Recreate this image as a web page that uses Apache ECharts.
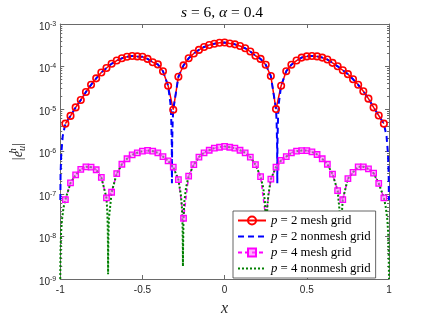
<!DOCTYPE html>
<html><head><meta charset="utf-8">
<script src="https://cdn.jsdelivr.net/npm/echarts@6/dist/echarts.min.js"></script>
<style>html,body{margin:0;padding:0;background:#fff}#c{width:429px;height:322px}</style>
</head><body><div id="c"></div>
<script>
// ---- data ----
const seriesNames = ['p = 2 mesh grid', 'p = 2 nonmesh grid', 'p = 4 mesh grid', 'p = 4 nonmesh grid'];
const xTickValues = [-1, -0.5, 0, 0.5, 1];
const xTickLabels = ['-1', '-0.5', '0', '0.5', '1'];
const yTickValues = [1e-9, 1e-8, 1e-7, 1e-6, 1e-5, 1e-4, 1e-3];
const yTickExps = ['-9', '-8', '-7', '-6', '-5', '-4', '-3'];

const meshX = [-0.96875, -0.9375, -0.90625, -0.875, -0.84375, -0.8125, -0.78125, -0.75, -0.71875, -0.6875,
  -0.65625, -0.625, -0.59375, -0.5625, -0.53125, -0.5, -0.46875, -0.4375, -0.40625, -0.375,
  -0.34375, -0.3125, -0.28125, -0.25, -0.21875, -0.1875, -0.15625, -0.125, -0.09375, -0.0625,
  -0.03125, 0, 0.03125, 0.0625, 0.09375, 0.125, 0.15625, 0.1875, 0.21875, 0.25,
  0.28125, 0.3125, 0.34375, 0.375, 0.40625, 0.4375, 0.46875, 0.5, 0.53125, 0.5625,
  0.59375, 0.625, 0.65625, 0.6875, 0.71875, 0.75, 0.78125, 0.8125, 0.84375, 0.875,
  0.90625, 0.9375, 0.96875];

const p2Mesh = [4.52e-6, 6.89e-6, 1.09e-5, 1.63e-5, 2.52e-5, 3.71e-5, 5.26e-5, 7.21e-5, 9.23e-5, 1.16e-4,
  1.38e-4, 1.56e-4, 1.70e-4, 1.77e-4, 1.73e-4, 1.70e-4, 1.51e-4, 1.26e-4, 1.12e-4, 7.74e-5,
  3.52e-5, 9.62e-6, 5.74e-5, 1.06e-4, 1.56e-4, 2.03e-4, 2.46e-4, 2.88e-4, 3.20e-4, 3.44e-4,
  3.62e-4, 3.66e-4, 3.49e-4, 3.32e-4, 3.04e-4, 2.69e-4, 2.25e-4, 1.79e-4, 1.51e-4, 1.10e-4,
  5.96e-5, 9.95e-6, 3.52e-5, 7.74e-5, 1.10e-4, 1.38e-4, 1.62e-4, 1.73e-4, 1.77e-4, 1.73e-4,
  1.62e-4, 1.46e-4, 1.22e-4, 1.01e-4, 8.17e-5, 6.61e-5, 5.00e-5, 3.71e-5, 2.61e-5, 1.75e-5,
  1.09e-5, 7.03e-6, 4.52e-6];

const p4Mesh = [7.41e-8, 1.82e-7, 2.82e-7, 3.80e-7, 4.37e-7, 4.27e-7, 3.72e-7, 2.45e-7, 8.13e-8, 1.10e-7,
  3.02e-7, 5.01e-7, 6.76e-7, 8.32e-7, 9.33e-7, 1.02e-6, 1.06e-6, 1.02e-6, 9.33e-7, 7.59e-7,
  6.03e-7, 4.27e-7, 2.19e-7, 2.69e-8, 2.63e-7, 4.90e-7, 7.41e-7, 9.33e-7, 1.07e-6, 1.20e-6,
  1.26e-6, 1.32e-6, 1.26e-6, 1.20e-6, 1.07e-6, 9.33e-7, 7.41e-7, 4.90e-7, 2.57e-7, 2.82e-8,
  2.24e-7, 4.27e-7, 6.17e-7, 7.59e-7, 9.33e-7, 1.02e-6, 1.05e-6, 1.05e-6, 9.77e-7, 8.51e-7,
  6.76e-7, 5.01e-7, 2.95e-7, 1.20e-7, 7.41e-8, 2.29e-7, 3.24e-7, 4.37e-7, 4.37e-7, 3.89e-7,
  3.09e-7, 1.78e-7, 8.13e-8];

const p2NonmeshX = [-0.9995, -0.998, -0.994, -0.985,
  -0.96875, -0.9375, -0.90625, -0.875, -0.84375, -0.8125, -0.78125, -0.75, -0.71875, -0.6875,
  -0.65625, -0.625, -0.59375, -0.5625, -0.53125, -0.5, -0.46875, -0.4375, -0.40625, -0.375, -0.34375,
  -0.33, -0.325, -0.3215, -0.3205, -0.3195, -0.316,
  -0.3125, -0.28125, -0.25, -0.21875, -0.1875, -0.15625, -0.125, -0.09375, -0.0625, -0.03125, 0,
  0.03125, 0.0625, 0.09375, 0.125, 0.15625, 0.1875, 0.21875, 0.25, 0.28125, 0.3125,
  0.316, 0.3195, 0.3205, 0.3215, 0.325, 0.33,
  0.34375, 0.375, 0.40625, 0.4375, 0.46875, 0.5, 0.53125, 0.5625, 0.59375, 0.625, 0.65625,
  0.6875, 0.71875, 0.75, 0.78125, 0.8125, 0.84375, 0.875, 0.90625, 0.9375, 0.96875,
  0.985, 0.994, 0.998, 0.9995];
const p2NonmeshY = [7.2e-8, 2.9e-7, 8.7e-7, 2.3e-6,
  4.52e-6, 6.89e-6, 1.09e-5, 1.63e-5, 2.52e-5, 3.71e-5, 5.26e-5, 7.21e-5, 9.23e-5, 1.16e-4,
  1.38e-4, 1.56e-4, 1.70e-4, 1.77e-4, 1.73e-4, 1.70e-4, 1.51e-4, 1.26e-4, 1.12e-4, 7.74e-5, 3.52e-5,
  1.4e-5, 6.5e-6, 1.5e-6, 1.8e-7, 1.3e-6, 5.3e-6,
  9.62e-6, 5.74e-5, 1.06e-4, 1.56e-4, 2.03e-4, 2.46e-4, 2.88e-4, 3.20e-4, 3.44e-4, 3.62e-4, 3.66e-4,
  3.49e-4, 3.32e-4, 3.04e-4, 2.69e-4, 2.25e-4, 1.79e-4, 1.51e-4, 1.10e-4, 5.96e-5, 9.95e-6,
  5.5e-6, 1.3e-6, 1.8e-7, 1.5e-6, 6.5e-6, 1.4e-5,
  3.52e-5, 7.74e-5, 1.10e-4, 1.38e-4, 1.62e-4, 1.73e-4, 1.77e-4, 1.73e-4, 1.62e-4, 1.46e-4, 1.22e-4,
  1.01e-4, 8.17e-5, 6.61e-5, 5.00e-5, 3.71e-5, 2.61e-5, 1.75e-5, 1.09e-5, 7.03e-6, 4.52e-6,
  2.3e-6, 8.7e-7, 2.9e-7, 7.2e-8];

const p4NonmeshX = [-1, -0.998, -0.995, -0.99, -0.98,
  -0.96875, -0.9375, -0.90625, -0.875, -0.84375, -0.8125, -0.78125, -0.75, -0.71875,
  -0.714, -0.711, -0.7098, -0.709, -0.7082, -0.707, -0.704,
  -0.6875, -0.65625, -0.625, -0.59375, -0.5625, -0.53125, -0.5, -0.46875, -0.4375, -0.40625, -0.375, -0.34375, -0.3125, -0.28125,
  -0.266, -0.26, -0.256, -0.2543, -0.2536, -0.2529,
  -0.25,
  -0.245, -0.235,
  -0.21875, -0.1875, -0.15625, -0.125, -0.09375, -0.0625, -0.03125, 0, 0.03125, 0.0625, 0.09375, 0.125, 0.15625, 0.1875, 0.21875,
  0.235, 0.245,
  0.25,
  0.2529, 0.2536, 0.2543, 0.256, 0.26, 0.266,
  0.28125, 0.3125, 0.34375, 0.375, 0.40625, 0.4375, 0.46875, 0.5, 0.53125, 0.5625, 0.59375, 0.625, 0.65625, 0.6875,
  0.704, 0.707, 0.7082, 0.709, 0.7098, 0.711, 0.714,
  0.71875, 0.75, 0.78125, 0.8125, 0.84375, 0.875, 0.90625, 0.9375, 0.96875,
  0.98, 0.99, 0.995, 0.998, 1];
const p4NonmeshY = [1.0e-9, 5e-9, 1.2e-8, 2.4e-8, 4.8e-8,
  7.41e-8, 1.82e-7, 2.82e-7, 3.80e-7, 4.37e-7, 4.27e-7, 3.72e-7, 2.45e-7, 8.13e-8,
  4.0e-8, 1.7e-8, 6.6e-9, 1.3e-9, 4.0e-9, 1.0e-8, 2.6e-8,
  1.10e-7, 3.02e-7, 5.01e-7, 6.76e-7, 8.32e-7, 9.33e-7, 1.02e-6, 1.06e-6, 1.02e-6, 9.33e-7, 7.59e-7, 6.03e-7, 4.27e-7, 2.19e-7,
  9.5e-8, 4.9e-8, 1.85e-8, 5.4e-9, 2.0e-9, 5.4e-9,
  2.69e-8,
  6.6e-8, 1.4e-7,
  2.63e-7, 4.90e-7, 7.41e-7, 9.33e-7, 1.07e-6, 1.20e-6, 1.26e-6, 1.32e-6, 1.26e-6, 1.20e-6, 1.07e-6, 9.33e-7, 7.41e-7, 4.90e-7, 2.57e-7,
  1.4e-7, 6.6e-8,
  2.82e-8,
  5.4e-9, 2.0e-9, 5.4e-9, 1.85e-8, 4.9e-8, 9.5e-8,
  2.24e-7, 4.27e-7, 6.17e-7, 7.59e-7, 9.33e-7, 1.02e-6, 1.05e-6, 1.05e-6, 9.77e-7, 8.51e-7, 6.76e-7, 5.01e-7, 2.95e-7, 1.20e-7,
  2.6e-8, 1.0e-8, 4.0e-9, 1.3e-9, 6.0e-9, 1.6e-8, 4.0e-8,
  7.41e-8, 2.29e-7, 3.24e-7, 4.37e-7, 4.37e-7, 3.89e-7, 3.09e-7, 1.78e-7, 8.13e-8,
  5.0e-8, 2.5e-8, 1.2e-8, 5e-9, 1.0e-9];

// ---- chart ----
const serif = '"Liberation Serif","DejaVu Serif",serif';
const sans = '"Liberation Sans",Arial,sans-serif';
const axisColor = '#6a6a6a';
const labelColor = '#262626';
const minorTicks = [];
for (let d = -9; d < -3; d++) for (let m = 2; m <= 9; m++) minorTicks.push(m * Math.pow(10, d));

const pairs = (xs, ys) => xs.map((x, i) => [x, ys[i]]);
const yLabel = v => {
  const i = yTickValues.findIndex(t => Math.abs(Math.log10(t) - Math.log10(v)) < 1e-6);
  return i < 0 ? '' : '{b|10}{s|' + yTickExps[i] + '}';
};
const xLabel = v => {
  const i = xTickValues.findIndex(t => Math.abs(t - v) < 1e-9);
  return i < 0 ? '' : xTickLabels[i];
};
const lineAx = { show: true, onZero: false, lineStyle: { color: axisColor, width: 1 } };

const chart = echarts.init(document.getElementById('c'), null, { renderer: 'canvas' });
chart.setOption({
  animation: false,
  backgroundColor: '#fff',
  title: {
    text: '{i|s} = 6, {i|α} = 0.4', left: 222, top: 5, textAlign: 'center', padding: 0,
    textStyle: { fontFamily: serif, fontSize: 15.5, fontWeight: 'normal', color: '#000',
      rich: { i: { fontFamily: serif, fontStyle: 'italic', fontSize: 15.5, color: '#000' } } }
  },
  grid: { left: 56, right: 40, top: 24, bottom: 36 },
  legend: {
    left: 233, top: 211, orient: 'vertical', itemWidth: 28, itemHeight: 10, itemGap: 3,
    padding: [3, 5, 3, 4], backgroundColor: '#fff', borderColor: '#404040', borderWidth: 0.8,
    selectedMode: false,
    data: [
      { name: seriesNames[0] },
      { name: seriesNames[1], itemStyle: { opacity: 0 } },
      { name: seriesNames[2] },
      { name: seriesNames[3], itemStyle: { opacity: 0 } }
    ],
    formatter: n => n.replace(/^p/, '{i|p}'),
    textStyle: { fontFamily: serif, fontSize: 12.8, color: '#000', lineHeight: 12,
      rich: { i: { fontFamily: serif, fontStyle: 'italic', fontSize: 12.8, lineHeight: 12, color: '#000' } } }
  },
  xAxis: [
    { type: 'value', min: -1, max: 1, interval: 0.5, position: 'bottom', axisLine: lineAx,
      axisTick: { inside: true, length: 4, lineStyle: { color: axisColor } },
      axisLabel: { formatter: xLabel, color: labelColor, fontFamily: sans, fontSize: 10, margin: 6 },
      splitLine: { show: false },
      name: 'x', nameLocation: 'middle', nameGap: 22,
      nameTextStyle: { fontFamily: serif, fontStyle: 'italic', fontSize: 16, color: '#262626' } },
    { type: 'value', min: -1, max: 1, interval: 0.5, position: 'top', axisLine: lineAx,
      axisTick: { inside: true, length: 4, lineStyle: { color: axisColor } },
      axisLabel: { show: false }, splitLine: { show: false } }
  ],
  yAxis: [
    { type: 'log', logBase: 10, min: 1e-9, max: 1e-3, position: 'left', axisLine: lineAx,
      axisTick: { inside: true, length: 4, customValues: yTickValues, lineStyle: { color: axisColor } },
      axisLabel: { customValues: yTickValues, formatter: yLabel, margin: 4, lineHeight: 16,
        rich: { b: { fontFamily: sans, fontSize: 10, color: labelColor, verticalAlign: 'bottom', lineHeight: 16 },
                s: { fontFamily: sans, fontSize: 7, color: labelColor, verticalAlign: 'middle', lineHeight: 16 } } },
      splitLine: { show: false },
      name: '|{e|e}{h|h}{u|u}|', nameLocation: 'middle', nameRotate: 90, nameGap: 27,
      nameTextStyle: { fontFamily: serif, fontSize: 14, color: '#262626', lineHeight: 20,
        rich: { e: { fontFamily: serif, fontStyle: 'italic', fontSize: 14.5, color: '#262626', lineHeight: 20 },
                h: { fontFamily: serif, fontStyle: 'italic', fontSize: 10.5, color: '#262626', verticalAlign: 'top', width: 0, lineHeight: 20 },
                u: { fontFamily: serif, fontStyle: 'italic', fontSize: 10.5, color: '#262626', verticalAlign: 'bottom', lineHeight: 20 } } } },
    { type: 'log', logBase: 10, min: 1e-9, max: 1e-3, position: 'right', axisLine: lineAx,
      axisTick: { inside: true, length: 4, customValues: yTickValues, lineStyle: { color: axisColor } },
      axisLabel: { show: false }, splitLine: { show: false } },
    { type: 'log', logBase: 10, min: 1e-9, max: 1e-3, position: 'left', axisLine: { show: false, onZero: false },
      axisTick: { inside: true, length: 2, customValues: minorTicks, lineStyle: { color: axisColor } },
      axisLabel: { show: false }, splitLine: { show: false } },
    { type: 'log', logBase: 10, min: 1e-9, max: 1e-3, position: 'right', axisLine: { show: false, onZero: false },
      axisTick: { inside: true, length: 2, customValues: minorTicks, lineStyle: { color: axisColor } },
      axisLabel: { show: false }, splitLine: { show: false } }
  ],
  series: [
    { name: seriesNames[0], type: 'line', data: pairs(meshX, p2Mesh), symbol: 'circle', symbolSize: 6.5,
      lineStyle: { color: '#ff0000', width: 1.5 },
      itemStyle: { color: 'rgba(255,255,255,0)', borderColor: '#ff0000', borderWidth: 1.6 } },
    { name: seriesNames[1], type: 'line', data: pairs(p2NonmeshX, p2NonmeshY), symbol: 'none',
      lineStyle: { color: '#0000ff', width: 2, type: [6, 4] }, itemStyle: { color: '#0000ff' } },
    { name: seriesNames[2], type: 'line', data: pairs(meshX, p4Mesh), symbol: 'rect', symbolSize: 5.5,
      lineStyle: { color: '#ff00ff', width: 1.5, type: [4, 3] },
      itemStyle: { color: 'rgba(255,110,255,0.55)', borderColor: '#ff00ff', borderWidth: 1.3 } },
    { name: seriesNames[3], type: 'line', data: pairs(p4NonmeshX, p4NonmeshY), symbol: 'none',
      lineStyle: { color: '#008000', width: 2, type: [2, 2] }, itemStyle: { color: '#008000' } }
  ]
});
</script></body></html>
